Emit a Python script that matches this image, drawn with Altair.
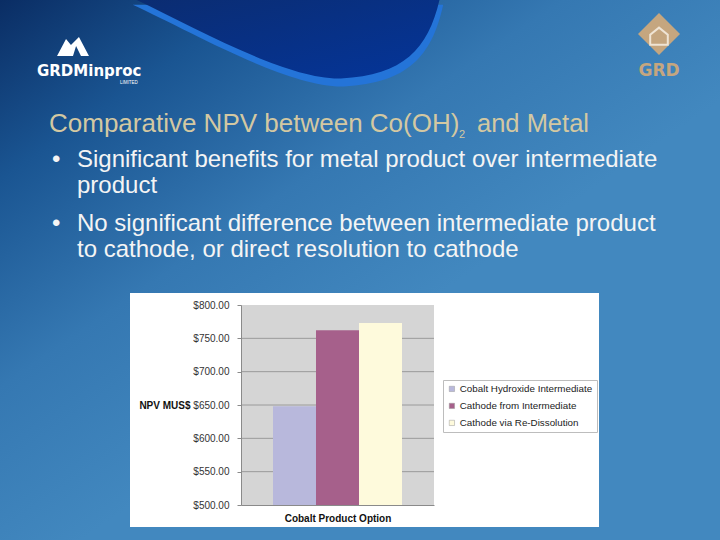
import altair as alt

# ---- data ----
options = ["Cobalt Hydroxide Intermediate", "Cathode from Intermediate", "Cathode via Re-Dissolution"]
npv = [648, 762, 773]
bar_colors = ["#b8b8dc", "#a6608b", "#fefadc"]
y_ticks = [500, 550, 600, 650, 700, 750, 800]
grid_vals = [550, 600, 650, 700, 750]

title_main = "Comparative NPV between Co(OH)"
title_sub = "2"
title_end = "and Metal"
bullet_lines = [
    "Significant benefits for metal product over intermediate",
    "product",
    "No significant difference between intermediate product",
    "to cathode, or direct resolution to cathode",
]

# plot-area origin in the page
OX, OY = 241, 305
PW, PH = 193, 200

def rx(v):
    return v - OX

def ry(v):
    return v - OY

one = alt.Data(values=[{"k": 1}])
FONT = "Liberation Sans"

# ---- slide background ----
bg = alt.Chart(one).mark_rect(
    fill=alt.Gradient(
        gradient="linear",
        stops=[
            alt.GradientStop(color="#0a2d64", offset=0),
            alt.GradientStop(color="#1a5592", offset=0.3),
            alt.GradientStop(color="#3578b2", offset=0.65),
            alt.GradientStop(color="#4288bf", offset=1),
        ],
        x1=0, y1=0, x2=0.55, y2=0.6,
    ),
    stroke=None,
).encode(x=alt.value(rx(0)), x2=alt.value(rx(720)), y=alt.value(ry(0)), y2=alt.value(ry(540)))

swoosh_path = "M -0.97 -0.27 C -0.6 -0.1 0.0 0.25 0.35 0.24 C 0.75 0.22 0.9 0.05 0.97 -0.27 Z"
swoosh_band = alt.Chart(one).mark_point(
    shape=swoosh_path, filled=True, fill="#2474d8", opacity=1, size=102400, strokeWidth=0
).encode(x=alt.value(rx(288)), y=alt.value(ry(48)))
swoosh_dark = alt.Chart(one).mark_point(
    shape=swoosh_path, filled=True, opacity=1, size=102400, strokeWidth=0,
    fill=alt.Gradient(
        gradient="linear",
        stops=[alt.GradientStop(color="#0b2c70", offset=0), alt.GradientStop(color="#04359a", offset=1)],
        x1=0, y1=0, x2=1, y2=1,
    ),
).encode(x=alt.value(rx(285)), y=alt.value(ry(40)))

# ---- logos ----
mountain = alt.Chart(one).mark_point(
    shape="M -0.94 0.53 L -0.41 -0.47 L -0.12 -0.12 L 0.35 -0.59 L 0.94 0.53 L 0.47 0.53 L 0.18 -0.06 L 0.0 0.53 Z",
    filled=True, fill="white", opacity=1, size=1156, strokeWidth=0,
).encode(x=alt.value(rx(73)), y=alt.value(ry(47)))
logo_text = alt.Chart(one).mark_text(
    text="GRDMinproc", font="DejaVu Sans", fontWeight="bold", fontSize=15, color="white",
    align="left", baseline="alphabetic",
).encode(x=alt.value(rx(37)), y=alt.value(ry(76)))
logo_ltd = alt.Chart(one).mark_text(
    text="LIMITED", font=FONT, fontSize=4.5, color="white", align="left", baseline="alphabetic",
).encode(x=alt.value(rx(120)), y=alt.value(ry(84)))

diamond = alt.Chart(one).mark_point(
    shape="diamond", filled=True, fill="#c5a67f", opacity=1, size=1764, strokeWidth=0,
).encode(x=alt.value(rx(659)), y=alt.value(ry(34)))
house = alt.Chart(one).mark_point(
    shape="M -0.8 0.7 L -0.8 -0.2 L 0 -0.85 L 0.8 -0.2 L 0.8 0.7 Z",
    filled=False, stroke="#efe4d4", strokeWidth=2, opacity=1, size=484,
).encode(x=alt.value(rx(659)), y=alt.value(ry(37)))
grd_text = alt.Chart(one).mark_text(
    text="GRD", font="DejaVu Sans", fontWeight="bold", fontSize=17, color="#c5a67f",
    align="center", baseline="alphabetic",
).encode(x=alt.value(rx(659)), y=alt.value(ry(76)))

# ---- slide text ----
TITLE_COLOR = "#d3c8a2"
t1 = alt.Chart(one).mark_text(
    text=title_main, font=FONT, fontSize=26, color=TITLE_COLOR, align="left", baseline="alphabetic"
).encode(x=alt.value(rx(49)), y=alt.value(ry(132)))
t2 = alt.Chart(one).mark_text(
    text=title_sub, font=FONT, fontSize=11, color=TITLE_COLOR, align="left", baseline="alphabetic"
).encode(x=alt.value(rx(459)), y=alt.value(ry(138)))
t3 = alt.Chart(one).mark_text(
    text=title_end, font=FONT, fontSize=25.5, color=TITLE_COLOR, align="left", baseline="alphabetic"
).encode(x=alt.value(rx(477)), y=alt.value(ry(132)))

TEXT_COLOR = "#f4f4f4"
baselines = [167, 193, 231, 257]
body = []
for line, b in zip(bullet_lines, baselines):
    body.append(
        alt.Chart(one).mark_text(
            text=line, font=FONT, fontSize=24, color=TEXT_COLOR, align="left", baseline="alphabetic"
        ).encode(x=alt.value(rx(77)), y=alt.value(ry(b)))
    )
for b in (baselines[0], baselines[2]):
    body.append(
        alt.Chart(one).mark_text(
            text="•", font=FONT, fontSize=24, color=TEXT_COLOR, align="left", baseline="alphabetic"
        ).encode(x=alt.value(rx(52)), y=alt.value(ry(b)))
    )

# ---- embedded chart ----
white_box = alt.Chart(one).mark_rect(fill="white", stroke=None).encode(
    x=alt.value(rx(130)), x2=alt.value(rx(599)), y=alt.value(ry(293)), y2=alt.value(ry(527))
)
plot_bg = alt.Chart(one).mark_rect(fill="#d5d5d5", stroke=None).encode(
    x=alt.value(0), x2=alt.value(PW), y=alt.value(0), y2=alt.value(PH)
)

yscale = alt.Scale(domain=[500, 800], nice=False, zero=False)
yaxis = alt.Axis(
    values=y_ticks, format="$.2f", grid=False,
    labelFont=FONT, labelFontSize=10, labelColor="#333",
    tickColor="#8a8a8a", tickSize=4, labelPadding=8, domainColor="#8a8a8a",
    title="NPV MUS$", titleFont=FONT, titleFontSize=10, titleFontWeight="bold",
    titleColor="#111", titleAngle=0, titleAlign="right", titleBaseline="middle",
    titleX=-51, titleY=100, zindex=1,
)

grid = alt.Chart(alt.Data(values=[{"npv": v} for v in grid_vals])).mark_rule(
    color="#9a9a9a", strokeWidth=1
).encode(
    y=alt.Y("npv:Q", scale=yscale, axis=yaxis),
    x=alt.value(0), x2=alt.value(PW),
)

bars_data = alt.Data(values=[{"option": o, "npv": v} for o, v in zip(options, npv)])
bars = alt.Chart(bars_data).mark_bar(stroke=None).encode(
    x=alt.X(
        "option:N",
        sort=options,
        scale=alt.Scale(paddingInner=0, paddingOuter=0.744),
        axis=alt.Axis(
            labels=False, ticks=False, title="Cobalt Product Option",
            titleFont=FONT, titleFontSize=10, titleFontWeight="bold", titleColor="#111",
            titlePadding=8, domainColor="#8a8a8a", zindex=1,
        ),
    ),
    y=alt.Y("npv:Q", scale=yscale, axis=yaxis),
    y2=alt.datum(500),
    color=alt.Color(
        "option:N",
        sort=options,
        scale=alt.Scale(domain=options, range=bar_colors),
        legend=alt.Legend(
            title=None, orient="none", legendX=202, legendY=75,
            fillColor="white", strokeColor="#bdbdbd", padding=4,
            labelFont=FONT, labelFontSize=9.8, labelColor="#222",
            symbolType="square", symbolSize=28, symbolStrokeColor="#9a9a9a",
            symbolStrokeWidth=0.5, rowPadding=6, labelOffset=3,
        ),
    ),
)

chart = alt.layer(
    bg, swoosh_band, swoosh_dark, mountain, logo_text, logo_ltd, diamond, house, grd_text,
    t1, t2, t3, *body, white_box, plot_bg, grid, bars,
).properties(
    width=PW, height=PH,
    padding={"left": OX, "top": OY, "right": 720 - OX - PW, "bottom": 540 - OY - PH},
    autosize=alt.AutoSizeParams(type="none"),
).configure(background="#3578b2").configure_view(stroke=None)

chart.save("out.html", embed_options={"renderer": "svg", "actions": False})
